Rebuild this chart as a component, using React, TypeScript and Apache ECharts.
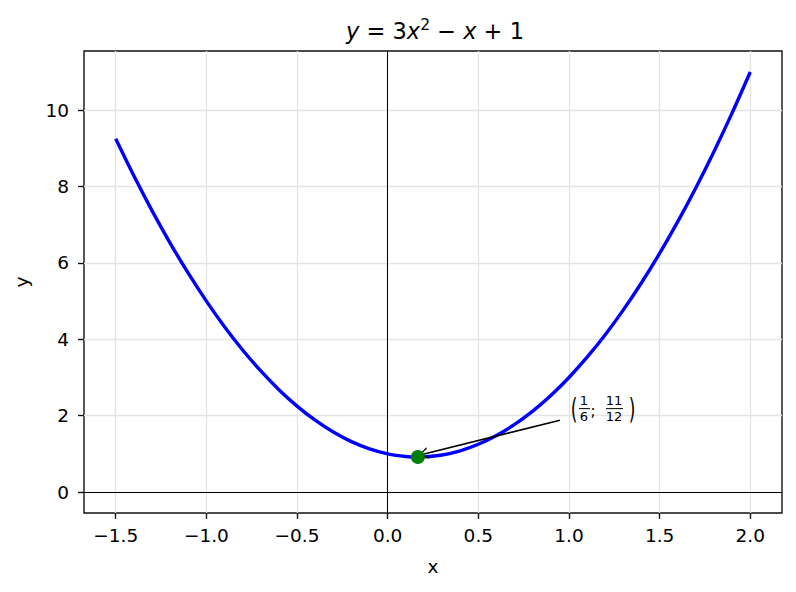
import React, { useEffect, useRef } from "react";
import * as echarts from "echarts";

// Curve samples (x, y)
const X_VALUES = [-1.5, -1.4, -1.3, -1.2, -1.1, -1.0, -0.9, -0.8, -0.7, -0.6, -0.5, -0.4, -0.3, -0.2, -0.1, 0.0, 0.1, 0.1667, 0.2, 0.3, 0.4, 0.5, 0.6, 0.7, 0.8, 0.9, 1.0, 1.1, 1.2, 1.3, 1.4, 1.5, 1.6, 1.7, 1.8, 1.9, 2.0];
const Y_VALUES = [9.25, 8.28, 7.37, 6.52, 5.73, 5.0, 4.33, 3.72, 3.17, 2.68, 2.25, 1.88, 1.57, 1.32, 1.13, 1.0, 0.93, 0.9167, 0.92, 0.97, 1.08, 1.25, 1.48, 1.77, 2.12, 2.53, 3.0, 3.53, 4.12, 4.77, 5.48, 6.25, 7.08, 7.97, 8.92, 9.93, 11.0];

const VERTEX = [1 / 6, 11 / 12];
const ARROW_FROM = [0.95, 1.88];
const ARROW_TO = [0.195, 0.99];
const ANNOT_ANCHOR = [1.0, 2.0];

const X_TICKS = [-1.5, -1.0, -0.5, 0.0, 0.5, 1.0, 1.5, 2.0];
const Y_TICKS = [0, 2, 4, 6, 8, 10];
const X_RANGE = [-1.675, 2.175];
const Y_RANGE = [-0.55, 11.55];

const FONT = "DejaVu Sans";

const fmtX = (v: number) => (v < 0 ? "\u2212" + Math.abs(v).toFixed(1) : v.toFixed(1));

export default function App() {
  const ref = useRef<HTMLDivElement>(null);
  useEffect(() => {
    if (!ref.current) return;
    const chart = echarts.init(ref.current, null, { renderer: "svg" });
    const curve = X_VALUES.map((x, i) => [x, Y_VALUES[i]]);
    chart.setOption({
      animation: false,
      backgroundColor: "#ffffff",
      textStyle: { fontFamily: FONT },
      title: {
        text: "{i|y} = 3{i|x}{sup|2} \u2212 {i|x} + 1",
        left: 430,
        top: 12,
        textAlign: "center",
        textStyle: {
          fontFamily: FONT,
          fontSize: 22.5,
          fontWeight: "normal",
          color: "#000",
          rich: {
            i: { fontFamily: FONT, fontSize: 22.5, fontStyle: "italic", color: "#000" },
            sup: { fontFamily: FONT, fontSize: 15.5, color: "#000", padding: [0, 0, 11, 0] },
          },
        },
      },
      grid: {
        left: 84,
        right: 14,
        top: 51,
        bottom: 79,
        show: true,
        borderColor: "#111",
        borderWidth: 1.4,
        backgroundColor: "transparent",
      },
      xAxis: {
        type: "value",
        min: X_RANGE[0],
        max: X_RANGE[1],
        name: "x",
        nameLocation: "middle",
        nameGap: 44,
        nameTextStyle: { fontFamily: FONT, fontSize: 18.5, color: "#000" },
        axisLine: { show: false, onZero: false },
        axisTick: { show: true, customValues: X_TICKS, length: 6, lineStyle: { color: "#111", width: 1.4 } },
        axisLabel: {
          customValues: X_TICKS,
          formatter: (v: number) => fmtX(v),
          fontFamily: FONT,
          fontSize: 18.5,
          color: "#000",
          margin: 13,
        },
        splitLine: { show: true, lineStyle: { color: "#e4e4e4", width: 1.4 } },
      },
      yAxis: {
        type: "value",
        min: Y_RANGE[0],
        max: Y_RANGE[1],
        name: "y",
        nameLocation: "middle",
        nameGap: 53,
        nameRotate: 90,
        nameTextStyle: { fontFamily: FONT, fontSize: 18.5, color: "#000" },
        axisLine: { show: false, onZero: false },
        axisTick: { show: true, customValues: Y_TICKS, length: 6, lineStyle: { color: "#111", width: 1.4 } },
        axisLabel: {
          customValues: Y_TICKS,
          formatter: (v: number) => String(Math.round(v)),
          fontFamily: FONT,
          fontSize: 18.5,
          color: "#000",
          margin: 15,
        },
        splitLine: { show: true, lineStyle: { color: "#e4e4e4", width: 1.4 } },
      },
      series: [
        {
          type: "line",
          data: curve,
          showSymbol: false,
          smooth: 0.3,
          lineStyle: { color: "#0000ff", width: 3.4 },
          itemStyle: { color: "#0000ff" },
          z: 3,
          markLine: {
            silent: true,
            symbol: "none",
            label: { show: false },
            lineStyle: { color: "#000", width: 1, type: "solid" },
            data: [{ yAxis: 0 }, { xAxis: 0 }],
            z: 1,
          },
        },
        {
          type: "scatter",
          data: [VERTEX],
          symbolSize: 14,
          itemStyle: { color: "#008000", opacity: 1 },
          z: 5,
          markLine: {
            silent: true,
            label: { show: false },
            lineStyle: { color: "#000", width: 1.5, type: "solid" },
            data: [
              [
                { coord: ARROW_FROM, symbol: "none" },
                {
                  coord: ARROW_TO,
                  symbol: "path://M5,0 L10,9 L8.6,9 L5,2.2 L1.4,9 L0,9 Z",
                  symbolSize: [12, 10],
                },
              ],
            ],
          },
        },
      ],
    });

    const p = chart.convertToPixel({ gridIndex: 0 }, ANNOT_ANCHOR) as number[];
    const ax = p[0];
    const ay = p[1];
    const txt = (s: string, dx: number, dy: number, size: number, sy = 1) => ({
      type: "text",
      x: ax + dx,
      y: ay + dy,
      scaleY: sy,
      originX: 0,
      originY: 0,
      style: {
        text: s,
        fontFamily: FONT,
        fontSize: size,
        fill: "#000",
        align: "center",
        verticalAlign: "middle",
      },
      z: 10,
    });
    const bar = (x1: number, x2: number, dy: number) => ({
      type: "line",
      shape: { x1: ax + x1, y1: ay + dy, x2: ax + x2, y2: ay + dy },
      style: { stroke: "#000", lineWidth: 1 },
      z: 10,
    });
    chart.setOption({
      graphic: [
        txt("(", 5, -7, 17, 1.65),
        txt("1", 15, -15, 13),
        bar(10, 21, -7),
        txt("6", 15, 1, 13),
        txt(";", 24, -5, 15),
        txt("11", 45, -15, 13),
        bar(37, 54, -7),
        txt("12", 45, 1, 13),
        txt(")", 63, -7, 17, 1.65),
      ],
    });

    return () => chart.dispose();
  }, []);
  return <div ref={ref} style={{ position: "fixed", left: 0, top: 0, width: 796, height: 592 }} />;
}
